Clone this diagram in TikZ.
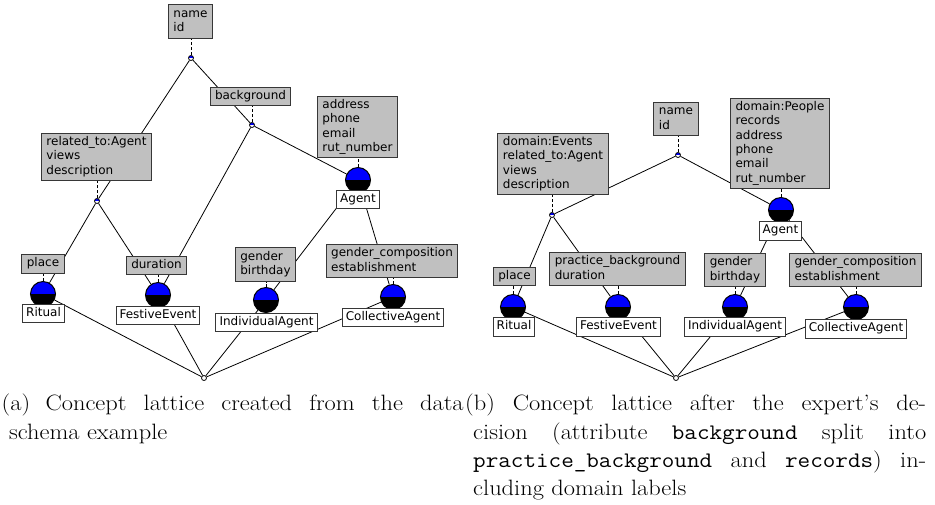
\documentclass[tikz,border=0pt]{standalone}
\usepackage{fontspec}
\usepackage{graphicx}
\newfontfamily\dfontfam{DejaVu Sans}
\newcommand\dfont{\dfontfam\fontsize{12}{14.3}\selectfont}
\newcommand\capfont{\fontsize{22.2}{28.3}\selectfont}
\newcommand\tl[1]{\begin{tabular}{@{}l@{}}#1\end{tabular}}
\definecolor{attrgray}{RGB}{192,192,192}
\definecolor{bordergray}{RGB}{55,55,55}
\definecolor{cblue}{RGB}{0,0,255}
\pgfdeclarelayer{back}
\pgfsetlayers{back,main}
\tikzset{
  attr/.style={draw=bordergray, line width=1pt, fill=attrgray, font=\dfont,
    inner xsep=5pt, inner ysep=2.3pt},
  obj/.style={draw=bordergray, line width=1pt, fill=white, font=\dfont,
    inner xsep=3.6pt, inner ysep=2.3pt},
  conc/.style={circle, draw=black, line width=1pt, minimum size=25pt, inner sep=0pt,
    path picture={\fill[cblue] (path picture bounding box.north west) rectangle (path picture bounding box.east);
                  \fill[black] (path picture bounding box.west) rectangle (path picture bounding box.south east);}},
  sconc/.style={circle, draw=black, line width=0.8pt, minimum size=5pt, inner sep=0pt,
    path picture={\fill[cblue] (path picture bounding box.north west) rectangle (path picture bounding box.east);
                  \fill[white] (path picture bounding box.west) rectangle (path picture bounding box.south east);}},
  bconc/.style={circle, draw=black, line width=0.8pt, minimum size=5pt, inner sep=0pt, fill=white},
  edgeline/.style={line width=0.8pt, black},
  lbl/.style={line width=0.8pt, black, dash pattern=on 3pt off 2pt},
  captxt/.style={anchor=base west, inner sep=0pt}
}
\begin{document}
\begin{tikzpicture}[x=1pt,y=-1pt]
\useasboundingbox (0,0) rectangle (935,504);
% ---------- left lattice: concepts
\node[sconc] (topA) at (191,58) {};
\node[sconc] (bgnA) at (252,125) {};
\node[sconc] (n3A) at (97,201) {};
\node[conc] (agA) at (358,180) {};
\node[conc] (ritA) at (43,294) {};
\node[conc] (fesA) at (158,295) {};
\node[conc] (indcA) at (266,300) {};
\node[conc] (colcA) at (393,297) {};
\node[bconc] (botA) at (204,378) {};
% labels
\node[attr] (nameA) at (190.5,21.5) {\tl{name\\id}};
\node[attr] (bgA) at (250.5,96.5) {\tl{background}};
\node[attr] (relA) at (96.5,157) {\tl{related\_to:Agent\\views\\description}};
\node[attr] (addrA) at (357.5,127) {\tl{address\\phone\\email\\rut\_number}};
\node[obj] (agentA) at (358,199.5) {\tl{Agent}};
\node[attr] (placeA) at (43,264) {\tl{place}};
\node[obj] (ritualA) at (43.5,313.5) {\tl{Ritual}};
\node[attr] (durA) at (156.5,265.5) {\tl{duration}};
\node[obj] (festA) at (158,315.5) {\tl{FestiveEvent}};
\node[attr] (genA) at (265.5,264.5) {\tl{gender\\birthday}};
\node[obj] (indA) at (266.5,322.5) {\tl{IndividualAgent}};
\node[attr] (gcA) at (392,261) {\tl{gender\_composition\\establishment}};
\node[obj] (colA) at (393,317.5) {\tl{CollectiveAgent}};
% ---------- right lattice: concepts
\node[sconc] (topB) at (678,155) {};
\node[sconc] (nlB) at (552,215) {};
\node[conc] (agB) at (781,210) {};
\node[conc] (ritB) at (513,307) {};
\node[conc] (fesB) at (618,307) {};
\node[conc] (indcB) at (735,307) {};
\node[conc] (colcB) at (856,307) {};
\node[bconc] (botB) at (676,378) {};
% labels
\node[attr] (nameB) at (676,119) {\tl{name\\id}};
\node[attr] (evB) at (553,164) {\tl{domain:Events\\related\_to:Agent\\views\\description}};
\node[attr] (pplB) at (780,143.5) {\tl{domain:People\\records\\address\\phone\\email\\rut\_number}};
\node[obj] (agentB) at (780.5,231) {\tl{Agent}};
\node[attr] (placeB) at (514.5,276.5) {\tl{place}};
\node[obj] (ritualB) at (514,327) {\tl{Ritual}};
\node[attr] (pbB) at (617.5,269) {\tl{practice\_background\\duration}};
\node[obj] (festB) at (618.5,327) {\tl{FestiveEvent}};
\node[attr] (genB) at (735,270) {\tl{gender\\birthday}};
\node[obj] (indB) at (735,327) {\tl{IndividualAgent}};
\node[attr] (gcB) at (855.5,270) {\tl{gender\_composition\\establishment}};
\node[obj] (colB) at (856,329) {\tl{CollectiveAgent}};
% ---------- connectors
\begin{pgfonlayer}{back}
\draw[edgeline] (topA) -- (n3A);
\draw[edgeline] (topA) -- (bgnA);
\draw[edgeline] (bgnA) -- (agA);
\draw[edgeline] (bgnA) -- (fesA);
\draw[edgeline] (n3A) -- (ritA);
\draw[edgeline] (n3A) -- (fesA);
\draw[edgeline] (agA) -- (indcA);
\draw[edgeline] (agA) -- (colcA);
\draw[edgeline] (ritA) -- (botA);
\draw[edgeline] (fesA) -- (botA);
\draw[edgeline] (indcA) -- (botA);
\draw[edgeline] (colcA) -- (botA);
\draw[lbl] (topA) -- (topA |- nameA.south);
\draw[lbl] (bgnA) -- (bgnA |- bgA.south);
\draw[lbl] (n3A) -- (n3A |- relA.south);
\draw[lbl] (agA) -- (agA |- addrA.south);
\draw[lbl] (ritA) -- (ritA |- placeA.south);
\draw[lbl] (fesA) -- (fesA |- durA.south);
\draw[lbl] (indcA) -- (indcA |- genA.south);
\draw[lbl] (colcA) -- (colcA |- gcA.south);
\draw[edgeline] (topB) -- (nlB);
\draw[edgeline] (topB) -- (agB);
\draw[edgeline] (nlB) -- (ritB);
\draw[edgeline] (nlB) -- (fesB);
\draw[edgeline] (agB) -- (indcB);
\draw[edgeline] (agB) -- (colcB);
\draw[edgeline] (ritB) -- (botB);
\draw[edgeline] (fesB) -- (botB);
\draw[edgeline] (indcB) -- (botB);
\draw[edgeline] (colcB) -- (botB);
\draw[lbl] (topB) -- (topB |- nameB.south);
\draw[lbl] (nlB) -- (nlB |- evB.south);
\draw[lbl] (agB) -- (agB |- pplB.south);
\draw[lbl] (ritB) -- (ritB |- placeB.south);
\draw[lbl] (fesB) -- (fesB |- pbB.south);
\draw[lbl] (indcB) -- (indcB |- genB.south);
\draw[lbl] (colcB) -- (colcB |- gcB.south);
\end{pgfonlayer}
% ---------- captions
\node[captxt] (capa) at (1.5,410.7) {\scalebox{1.1}[1]{\capfont\begin{tabular}[t]{@{}l@{}}%
\makebox[420pt][s]{(a)\hspace{14pt}Concept lattice created from the data}\\
\hspace*{6.8pt}schema example\end{tabular}}};
\node[captxt] (capb) at (465,410.7) {\scalebox{1.1}[1]{\capfont\begin{tabular}[t]{@{}l@{}}%
\makebox[419pt][s]{(b) Concept lattice after the expert's de-}\\
\hspace*{7.3pt}\makebox[411.8pt][s]{cision (attribute \texttt{background} split into}\\
\hspace*{7.3pt}\makebox[411.8pt][s]{\texttt{practice\_background} and \texttt{records}) in-}\\
\hspace*{7.3pt}cluding domain labels\end{tabular}}};
\end{tikzpicture}
\end{document}
